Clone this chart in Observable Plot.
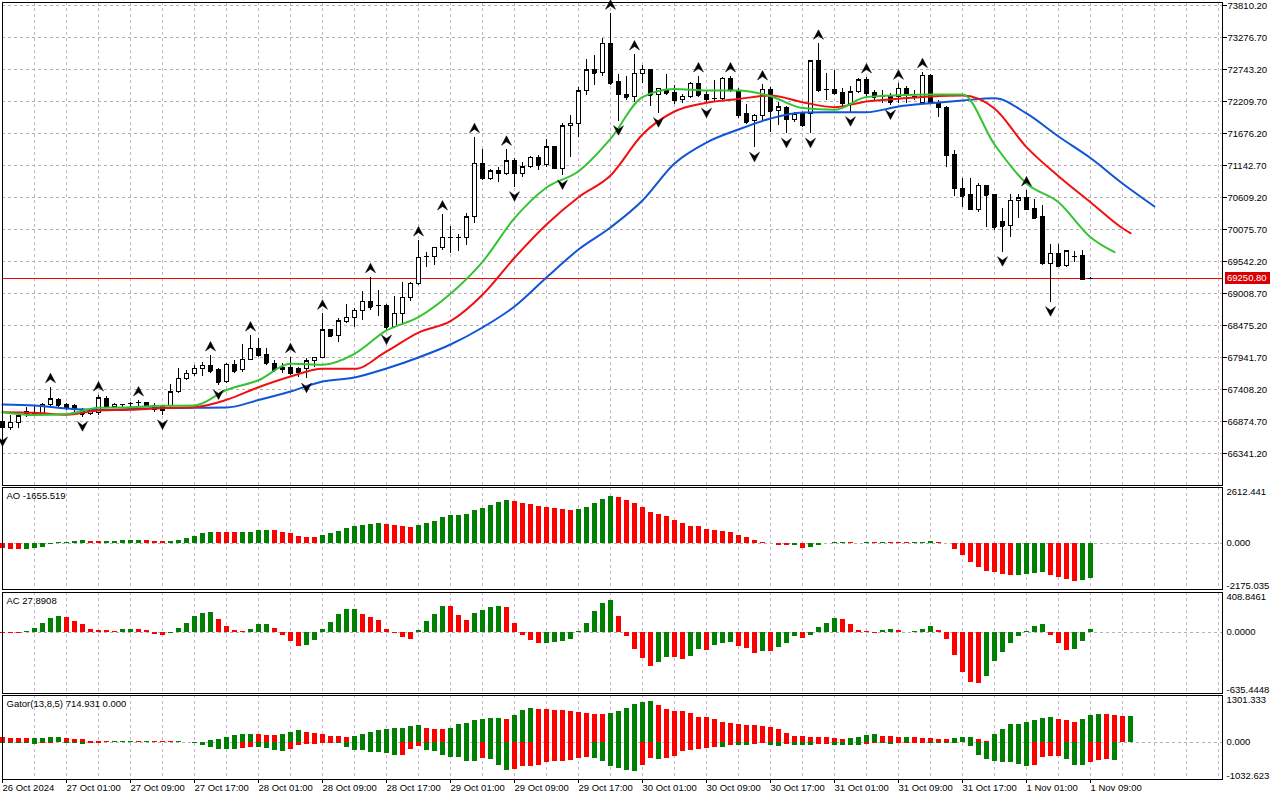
<!DOCTYPE html>
<html><head><meta charset="utf-8">
<script src="https://cdn.jsdelivr.net/npm/d3@7"></script>
<script src="https://cdn.jsdelivr.net/npm/@observablehq/plot@0.6"></script>
<style>
body{margin:0;background:#fff;}
#root{position:relative;width:1280px;height:800px;background:#fff;overflow:hidden;font-family:"Liberation Sans",Arial,sans-serif;}
</style></head><body><div id="root"></div>
<script>
// ---------- DATA ----------
const open = [
66863,66770,66853,66992,67008,67003,67153,67237,67142,67125,
67058,66992,67020,67253,67113,67150,67162,67180,67187,67137,
67113,67125,67363,67587,67670,67753,67808,67725,67530,67820,
67725,67903,68086,67987,67837,67725,67770,67753,67753,67880,
67937,68392,68297,68530,68603,68725,68875,68797,68808,68447,
68670,68937,69170,69614,69614,69770,69931,69931,69937,70281,
71171,70921,71059,71004,71226,71004,71115,71271,71143,71448,
71087,71793,71838,72382,72727,72682,73172,72532,72321,72281,
72672,72738,72310,72405,72348,72238,72281,72505,72310,72251,
72254,72588,72365,71993,71881,71976,72405,72059,72104,71904,
71993,72004,72877,72401,72405,72348,72171,72365,72560,72348,
72285,72281,72281,72421,72281,72181,72643,72181,72104,71326,
70754,70643,70409,70809,70659,70209,70131,70559,70598,70420,
70281,69504,69670,69464,69614,69626,69255];
const high = [
66908,66975,67020,67113,67142,67170,67447,67253,67170,67158,
67087,67070,67308,67297,67180,67158,67197,67225,67197,67170,
67142,67487,67753,67725,67808,67864,67975,67753,67837,67892,
68158,68308,68253,68086,67892,67837,67947,67780,67925,67947,
68670,68408,68587,68825,68753,69042,69280,69058,68825,68958,
69192,69192,69892,69698,69781,70325,70125,69992,70337,71615,
71404,71070,71104,71404,71254,71198,71293,71309,71571,71454,
71838,71976,72438,72905,72977,73265,73672,72660,72627,72993,
72810,72743,72426,72660,72476,72326,72532,72627,72393,72560,
72615,72627,72421,72160,71993,72493,72448,72198,72126,72031,
72031,72893,73172,72672,72727,72421,72460,72588,72610,72393,
72393,72338,72505,72460,72393,72698,72660,72226,72126,71393,
70921,70921,70837,70809,70659,70426,70654,70654,70726,70576,
70476,69820,69820,69726,69709,69726,69270];
const low = [
66691,66725,66753,66947,66975,66975,67113,67113,67058,67030,
66947,66975,66975,67087,67103,67087,67113,67125,67113,67030,
66975,67113,67337,67558,67625,67625,67680,67475,67513,67680,
67697,67892,67947,67808,67697,67670,67642,67614,67587,67780,
67920,68280,68200,68503,68447,68559,68725,68625,68392,68420,
68475,68875,69142,69448,69475,69725,69680,69713,69809,70170,
70893,70893,70865,70976,70781,70948,71087,71059,71115,71081,
70976,71281,71615,72310,72477,72627,72477,71881,72226,72198,
72505,72126,72015,72310,72160,72181,72254,72271,72171,72198,
72226,72365,71921,71826,71438,71865,71698,71809,71671,71865,
71781,71671,72365,72226,72310,72088,72031,72338,72293,72226,
72171,72143,72171,72171,72226,72171,72171,71948,71104,70626,
70448,70393,70364,70114,70059,69698,69947,70253,70392,70253,
69475,68864,69447,69447,69530,69237,69235];
const close = [
66770,66853,66963,67025,67017,67153,67242,67142,67103,67087,
66992,67042,67263,67113,67158,67155,67167,67187,67125,67070,
67058,67363,67587,67670,67753,67808,67713,67530,67820,67713,
67903,68086,67975,67847,67725,67764,67670,67697,67880,67937,
68392,68297,68542,68603,68725,68875,68780,68803,68447,68670,
68937,69170,69604,69620,69770,69937,69937,69937,70281,71171,
70921,71047,71004,71214,71004,71115,71271,71143,71448,71087,
71793,71838,72382,72727,72682,73172,72515,72321,72281,72672,
72738,72310,72421,72348,72226,72293,72505,72310,72238,72256,
72588,72393,71976,71865,71976,72405,72048,72115,71904,71993,
71809,72877,72393,72407,72338,72171,72365,72560,72338,72281,
72290,72198,72421,72310,72288,72643,72181,72104,71309,70754,
70631,70409,70809,70643,70114,70131,70559,70598,70409,70264,
69504,69670,69464,69709,69620,69237,69250.8];
const currentPrice = 69250.8;

// Alligator lines (bar index, price), already shifted forward
const jaw = [[0,67158],[4,67141],[8,67091],[12,67066],[16,67083],[20,67100],[24,67103],[28,67108],[32,67233],[36,67375],[40,67541],[44,67608],[48,67758],[52,67942],[56,68158],[60,68442],[64,68792],[68,69275],[72,69742],[76,70109],[80,70559],[84,71176],[88,71526],[92,71743],[96,71926],[100,72026],[104,72031],[108,72031],[112,72126],[116,72181],[120,72226],[124,72265],[128,72010],[132,71626],[136,71268],[140,70843],[144,70459]];
const teeth = [[0,67030],[4,67020],[8,66986],[12,67058],[16,67070],[20,67100],[24,67113],[28,67236],[32,67446],[36,67625],[40,67753],[44,67753],[48,68042],[52,68358],[56,68547],[60,68987],[64,69604],[68,70159],[72,70614],[76,70976],[80,71660],[84,72043],[88,72188],[92,72251],[96,72310],[100,72198],[104,72115],[108,72210],[112,72255],[116,72293],[120,72310],[124,72093],[128,71448],[132,70964],[136,70531],[140,70097],[141,70014]];
const lips = [[0,67030],[4,66983],[8,67000],[12,67103],[16,67113],[20,67136],[24,67141],[28,67400],[32,67563],[36,67836],[40,67820],[44,68003],[48,68392],[52,68614],[56,69004],[60,69537],[64,70264],[68,70776],[72,71048],[76,71588],[80,72281],[84,72418],[88,72393],[92,72393],[96,72298],[100,72101],[104,72071],[108,72285],[112,72315],[116,72326],[120,72326],[124,71493],[128,70843],[132,70531],[136,69947],[139,69697]];

const upFractals = [6,12,17,26,31,36,40,46,52,55,59,63,76,79,87,91,95,102,108,112,115,128];
const downFractals = [0,10,20,27,38,48,64,70,77,82,88,94,98,101,106,111,125,131];

const ao = [
-266,-297,-300,-282,-250,-188,-60,10,30,78,
125,100,78,85,90,110,120,125,115,85,
78,85,125,235,329,438,501,495,490,485,
495,505,595,600,590,501,470,313,266,260,
360,470,548,689,783,829,892,923,876,829,
783,751,845,939,1033,1205,1299,1315,1362,1534,
1628,1784,1909,2003,1956,1862,1815,1722,1675,1628,
1581,1534,1581,1675,1862,2050,2207,2160,2003,1862,
1675,1440,1346,1252,1064,923,800,783,642,595,
548,501,360,266,125,47,5,-125,-130,-110,
-235,-220,-125,-20,30,47,30,5,30,15,
30,25,15,10,20,47,78,30,-30,-297,
-579,-892,-1127,-1315,-1377,-1471,-1518,-1500,-1471,-1440,
-1362,-1518,-1596,-1706,-1784,-1770,-1655.519];
const ac = [
-17,-18,-20,5,34,86,138,159,148,114,
83,24,14,12,10,24,31,28,14,-28,
-38,-14,34,93,162,196,198,128,59,14,
7,24,76,78,34,-34,-97,-148,-138,-86,
24,103,179,231,233,179,152,117,24,-17,
-59,-76,20,110,179,265,260,169,117,190,
221,255,265,255,93,-38,-90,-121,-118,-107,
-97,-79,7,93,210,300,324,162,-45,-183,
-276,-355,-314,-262,-265,-286,-252,-183,-190,-138,
-114,-107,-148,-172,-224,-203,-205,-159,-121,-45,
-65,-34,48,93,138,128,76,17,7,-10,
17,24,14,-3,3,31,59,17,-79,-241,
-414,-520,-531,-458,-303,-210,-121,-45,7,59,
76,-34,-121,-190,-183,-97,27.8908];
const gatorUp = [
125,120,115,111,115,120,139,145,111,83,
65,37,19,10,12,19,20,18,20,18,
15,10,12,8,6,4,46,83,148,195,
222,230,222,195,190,222,287,315,269,250,
204,176,170,148,150,204,278,315,370,375,
398,445,454,389,361,355,389,482,537,593,
648,652,676,648,759,871,945,926,920,898,
880,852,834,806,787,785,790,852,945,1056,
1102,1121,1010,926,852,850,806,695,690,639,
565,537,500,472,454,435,408,361,250,176,
170,148,139,130,93,65,93,139,195,222,
176,150,145,148,146,120,93,90,88,111,
130,135,83,19,204,370,482,509,565,602,
676,680,648,602,565,621,732,787,780,740,
705,714.931];
const gatorDown = [
-28,-30,-32,-35,-74,-46,-28,-9,-28,-46,
-50,-40,-19,-9,-12,-18,-15,-9,-15,-18,
-10,-15,-12,-15,-28,-93,-148,-195,-198,-200,
-176,-148,-150,-176,-232,-259,-195,-93,-74,-70,
-28,-25,-30,-148,-232,-235,-287,-290,-324,-370,
-352,-195,-120,-213,-259,-370,-417,-420,-519,-537,
-445,-472,-630,-787,-750,-676,-658,-630,-565,-537,
-519,-491,-463,-426,-445,-519,-676,-732,-787,-815,
-630,-445,-472,-445,-398,-259,-232,-195,-167,-148,
-150,-93,-95,-98,-74,-46,-93,-120,-74,-80,
-85,-93,-74,-70,-75,-93,-95,-98,-74,-28,
-30,-74,-46,-28,-25,-20,-22,-25,-28,-30,
-5,-120,-352,-472,-537,-565,-570,-602,-658,-630,
-426,-398,-395,-472,-648,-650,-565,-491,-472,-509];
const gatorDownCurrent = 0;

const yTicks = [73810.20,73276.70,72743.20,72209.70,71676.20,71142.70,70609.20,70075.70,69542.20,69008.70,68475.20,67941.70,67408.20,66874.70,66341.20];
const aoRange = [-2175.035, 2612.441];
const acRange = [-635.4448, 408.8461];
const gatorRange = [-1032.623, 1301.333];
const xTickIdx = [0,8,16,24,32,40,48,56,64,72,80,88,96,104,112,120,128,136];
const xLabels = ["26 Oct 2024","27 Oct 01:00","27 Oct 09:00","27 Oct 17:00","28 Oct 01:00","28 Oct 09:00","28 Oct 17:00","29 Oct 01:00","29 Oct 09:00","29 Oct 17:00","30 Oct 01:00","30 Oct 09:00","30 Oct 17:00","31 Oct 01:00","31 Oct 09:00","31 Oct 17:00","1 Nov 01:00","1 Nov 09:00"];

// ---------- STYLE / LAYOUT ----------
const W = 1280;
const X_DOMAIN = [0, 152.5];
const gridIdx = d3.range(4, 153, 4);
const CRISP = "crispEdges";
const gridH = {stroke: "#b2b2b2", strokeDasharray: "3,3", shapeRendering: CRISP};
const gridV = {stroke: "#c8b3c9", strokeDasharray: "3,3", shapeRendering: CRISP};
const FONT = "'Liberation Sans', Arial, sans-serif";
const baseStyle = {background: "transparent", fontFamily: FONT, fontSize: "9.5px", color: "#000", overflow: "visible"};
const GREEN = "#008000", RED = "#ff0000";
const root = document.getElementById("root");

function place(svg, top) {
  svg.style.position = "absolute";
  svg.style.left = "0px";
  svg.style.top = top + "px";
  root.appendChild(svg);
}

const candles = open.map((o, i) => ({i, o, h: high[i], l: low[i], c: close[i]}));

const arrowUp = {draw(ctx, size) {
  const r = Math.sqrt(size / Math.PI);
  ctx.moveTo(0, -r); ctx.lineTo(r, r * 0.9); ctx.lineTo(0, r * 0.2); ctx.lineTo(-r, r * 0.9); ctx.closePath();
}};
const arrowDown = {draw(ctx, size) {
  const r = Math.sqrt(size / Math.PI);
  ctx.moveTo(0, r); ctx.lineTo(r, -r * 0.9); ctx.lineTo(0, -r * 0.2); ctx.lineTo(-r, -r * 0.9); ctx.closePath();
}};

// ---------- MAIN PANE ----------
const main = Plot.plot({
  width: W, height: 487, marginLeft: 2, marginRight: 58, marginTop: 2, marginBottom: 2,
  style: baseStyle,
  x: {domain: X_DOMAIN, axis: null},
  y: {domain: [66341.2, 73810.2], range: [453, 5], axis: null},
  marks: [
    Plot.ruleY(yTicks, gridH),
    Plot.ruleX(gridIdx, gridV),
    Plot.ruleY([currentPrice], {stroke: "#ff0000", shapeRendering: CRISP}),
    Plot.ruleX(candles, {x: "i", y1: "l", y2: "h", stroke: "#000", shapeRendering: CRISP}),
    Plot.rect(candles, {x1: d => d.i - 0.25, x2: d => d.i + 0.25, y1: d => Math.min(d.o, d.c), y2: d => Math.max(d.o, d.c),
      fill: d => d.c >= d.o ? "#fff" : "#000", stroke: "#000", shapeRendering: CRISP}),
    Plot.ruleY(candles, {y: "c", x1: d => d.i - 0.25, x2: d => d.i + 0.25, stroke: "#000", shapeRendering: CRISP}),
    Plot.line(jaw, {x: d => d[0], y: d => d[1], stroke: "#0f55d5", strokeWidth: 2, curve: "monotone-x"}),
    Plot.line(teeth, {x: d => d[0], y: d => d[1], stroke: "#f01010", strokeWidth: 2, curve: "monotone-x"}),
    Plot.line(lips, {x: d => d[0], y: d => d[1], stroke: "#33c433", strokeWidth: 2, curve: "monotone-x"}),
    Plot.dot(upFractals, {x: d => d, y: d => high[d], dy: -9, r: 5, symbol: arrowUp, fill: "#000", stroke: "#000", strokeWidth: 0.5}),
    Plot.dot(downFractals, {x: d => d, y: d => low[d], dy: 9, r: 5, symbol: arrowDown, fill: "#000", stroke: "#000", strokeWidth: 0.5}),
    Plot.frame({stroke: "#000", shapeRendering: CRISP}),
    Plot.axisY({ticks: yTicks, anchor: "right", tickSize: 4, tickPadding: 1, tickFormat: d => d.toFixed(2), label: null})
  ]
});
place(main, 0);

// current price label
const yp = main.scale("y").apply(currentPrice);
const lab = document.createElement("div");
lab.textContent = currentPrice.toFixed(2);
Object.assign(lab.style, {position: "absolute", left: "1225px", top: (yp - 6) + "px", width: "45px", height: "12px",
  background: "#d80000", color: "#fff", font: "9.5px " + FONT, lineHeight: "12px", paddingLeft: "2px", boxSizing: "border-box"});
root.appendChild(lab);

// ---------- SUB PANES ----------
function colorsBy(arr, first, useAbs) {
  return arr.map((v, i) => {
    if (i === 0) return first;
    const a = useAbs ? Math.abs(v) : v, b = useAbs ? Math.abs(arr[i - 1]) : arr[i - 1];
    return a > b ? GREEN : RED;
  });
}
function bars(arr, cols) {
  const data = arr.map((v, i) => ({i, v, col: cols[i]}));
  return Plot.rect(data, {x1: d => d.i - 0.3125, x2: d => d.i + 0.3125, y1: 0, y2: "v", fill: "col", shapeRendering: CRISP});
}
function pane({top, height, mb, domain, marks, title, fmt, extra = []}) {
  const lbl = {frameAnchor: "right", dx: 4, textAnchor: "start", text: fmt};
  const chart = Plot.plot({
    width: W, height, marginLeft: 2, marginRight: 58, marginTop: 2, marginBottom: mb,
    style: baseStyle,
    x: {domain: X_DOMAIN, axis: null},
    y: {domain, axis: null},
    marks: [
      Plot.ruleX(gridIdx, gridV),
      Plot.ruleY([0], gridH),
      ...marks,
      Plot.frame({stroke: "#000", shapeRendering: CRISP}),
      Plot.text([title], {frameAnchor: "top-left", dx: 4, dy: 5, lineAnchor: "top", text: d => d}),
      Plot.text([domain[1]], {...lbl, y: d => d, lineAnchor: "top", dy: 1}),
      Plot.text([0], {...lbl, y: d => d, lineAnchor: "middle"}),
      Plot.text([domain[0]], {...lbl, y: d => d, lineAnchor: "bottom", dy: -1}),
      ...extra
    ]
  });
  place(chart, top);
  return chart;
}

pane({top: 485, height: 106, mb: 2, domain: aoRange,
  marks: [bars(ao, colorsBy(ao, RED, false))],
  title: "AO " + ao[ao.length - 1].toFixed(3), fmt: d => d.toFixed(3)});

pane({top: 590, height: 105, mb: 2, domain: acRange,
  marks: [bars(ac, colorsBy(ac, RED, false))],
  title: "AC " + ac[ac.length - 1].toFixed(4), fmt: d => d.toFixed(4)});

pane({top: 693, height: 107, mb: 21, domain: gatorRange,
  marks: [bars(gatorUp, colorsBy(gatorUp, RED, true)), bars(gatorDown, colorsBy(gatorDown, GREEN, true))],
  title: "Gator(13,8,5) " + gatorUp[gatorUp.length - 1].toFixed(3) + " " + gatorDownCurrent.toFixed(3),
  fmt: d => d.toFixed(3),
  extra: [Plot.axisX({ticks: xTickIdx, tickFormat: d => xLabels[xTickIdx.indexOf(d)], anchor: "bottom",
    tickSize: 4, tickPadding: 1, textAnchor: "start", label: null})]});
</script>
</body></html>
